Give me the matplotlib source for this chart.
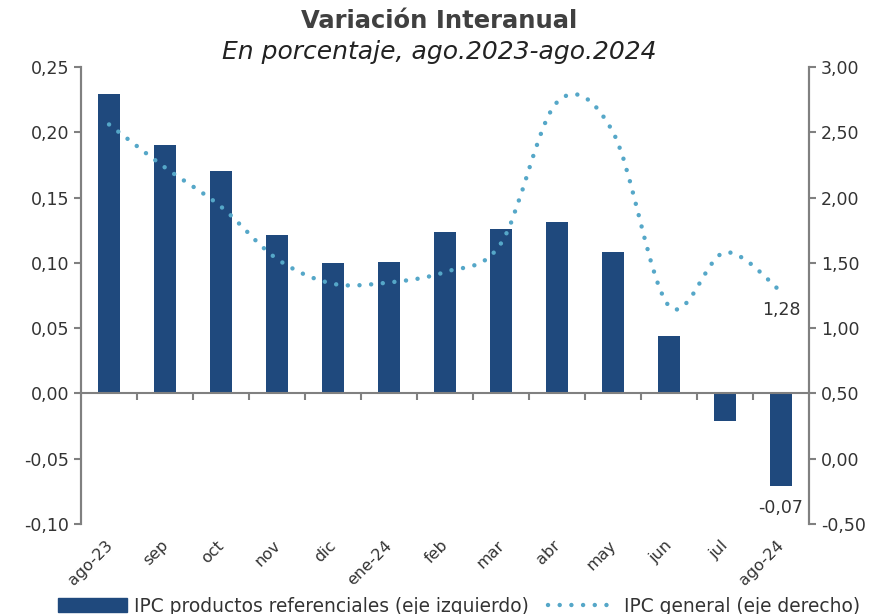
import matplotlib.pyplot as plt
from matplotlib.path import Path
from matplotlib.patches import PathPatch, Patch
from matplotlib.lines import Line2D
from matplotlib.ticker import FuncFormatter

plt.rcParams['font.family'] = ['DejaVu Sans']

meses = ["ago-23", "sep", "oct", "nov", "dic", "ene-24", "feb", "mar",
         "abr", "may", "jun", "jul", "ago-24"]
ipc_referenciales = [0.229, 0.190, 0.170, 0.121, 0.100, 0.101, 0.124, 0.126,
                     0.131, 0.108, 0.044, -0.021, -0.071]
ipc_general = [2.56, 2.23, 1.93, 1.53, 1.34, 1.35, 1.43, 1.65,
               2.73, 2.50, 1.17, 1.58, 1.28]

azul = "#1F497D"
celeste = "#55A7C8"
gris = "#808080"
texto = "#333333"
punteado = (0, (0.01, 2.62))

fig = plt.figure(figsize=(8.79, 6.14), dpi=100)
ax = fig.add_axes([0.0922, 0.1466, 0.8282, 0.7443])
ax2 = ax.twinx()

x = list(range(len(meses)))
ax.bar(x, ipc_referenciales, width=0.4, color=azul, zorder=2)

# smoothed line like excel (catmull-rom as bezier)
n = len(x)
verts = [(x[0], ipc_general[0])]
codes = [Path.MOVETO]
for i in range(n - 1):
    i0 = max(i - 1, 0)
    i3 = min(i + 2, n - 1)
    c1 = (x[i] + (x[i + 1] - x[i0]) / 6, ipc_general[i] + (ipc_general[i + 1] - ipc_general[i0]) / 6)
    c2 = (x[i + 1] - (x[i3] - x[i]) / 6, ipc_general[i + 1] - (ipc_general[i3] - ipc_general[i]) / 6)
    verts += [c1, c2, (x[i + 1], ipc_general[i + 1])]
    codes += [Path.CURVE4] * 3
curva = PathPatch(Path(verts, codes), fill=False, edgecolor=celeste, lw=3.2,
                  linestyle=punteado, capstyle='round', zorder=3)
ax2.add_patch(curva)

ax.set_xlim(-0.5, n - 0.5)
ax.set_ylim(-0.10, 0.25)
ax2.set_ylim(-0.50, 3.00)
ax.set_yticks([-0.10, -0.05, 0, 0.05, 0.10, 0.15, 0.20, 0.25])
ax2.set_yticks([-0.5, 0, 0.5, 1.0, 1.5, 2.0, 2.5, 3.0])
coma = FuncFormatter(lambda v, p: f"{v:.2f}".replace(".", ","))
ax.yaxis.set_major_formatter(coma)
ax2.yaxis.set_major_formatter(coma)

for a in (ax, ax2):
    a.spines['top'].set_visible(False)
    a.spines['left'].set_color(gris)
    a.spines['right'].set_color(gris)
    a.spines['left'].set_linewidth(1.5)
    a.spines['right'].set_linewidth(1.5)
    a.tick_params(axis='y', colors=gris, labelcolor=texto, labelsize=12.5,
                  length=5, width=1.5, direction='out')
ax2.spines['bottom'].set_visible(False)
ax.spines['bottom'].set_position(('data', 0))
ax.spines['bottom'].set_color(gris)
ax.spines['bottom'].set_linewidth(1.5)
ax.set_xticks([i + 0.5 for i in x[:-1]])
ax.tick_params(axis='x', colors=gris, length=5, width=1.5, direction='out', labelbottom=False)

for i, m in enumerate(meses):
    ax.text(i - 0.08, -0.03, m, transform=ax.get_xaxis_transform(), rotation=45,
            ha='right', va='top', rotation_mode='anchor', fontsize=11.5, color=texto)

ax2.annotate("1,28", (x[-1], ipc_general[-1]), xytext=(0, -7), textcoords='offset points',
             ha='center', va='top', fontsize=12.5, color=texto)
ax.annotate("-0,07", (x[-1], ipc_referenciales[-1]), xytext=(0, -9), textcoords='offset points',
            ha='center', va='top', fontsize=12.5, color=texto)

fig.text(0.5, 0.966, "Variación Interanual", ha='center', va='center',
         fontsize=17.5, fontweight='bold', color='#404040')
fig.text(0.5, 0.915, "En porcentaje, ago.2023-ago.2024", ha='center', va='center',
         fontsize=18, style='italic', color='#222222')

handles = [Patch(facecolor=azul, edgecolor=azul),
           Line2D([], [], color=celeste, lw=3.2, linestyle=punteado,
                  dash_capstyle='round')]
fig.legend(handles, ["IPC productos referenciales (eje izquierdo)", "IPC general (eje derecho)"],
           loc='center', bbox_to_anchor=(0.522, 0.013), ncol=2, frameon=False,
           fontsize=13.4, handlelength=3.7, handleheight=0.7, columnspacing=1.0,
           handletextpad=0.4, labelcolor=texto)

fig.savefig("out.png", dpi=100)
